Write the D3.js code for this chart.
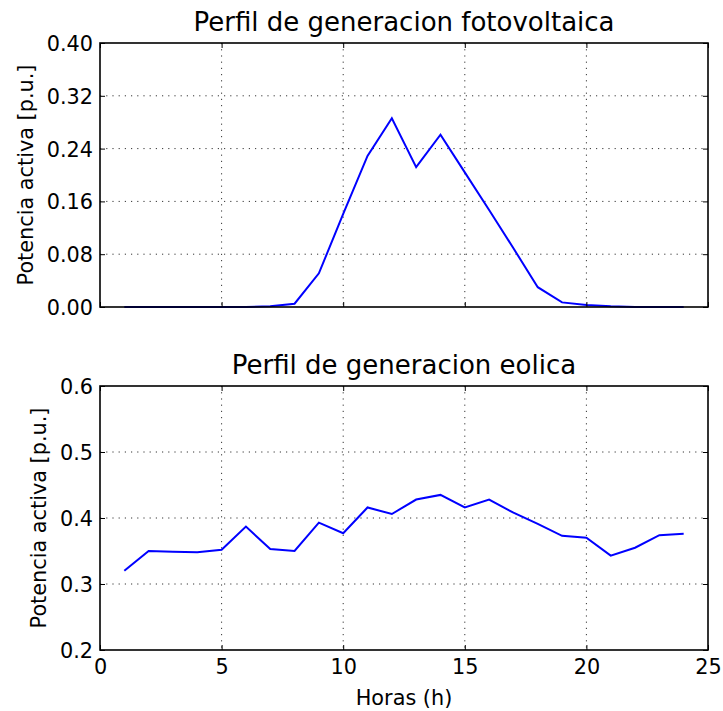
<!DOCTYPE html>
<html>
<head>
<meta charset="utf-8">
<script src="https://cdn.jsdelivr.net/npm/d3@7"></script>
<style>
  html, body { margin: 0; padding: 0; background: #fff; }
  svg { display: block; font-family: "DejaVu Sans", sans-serif; }
</style>
</head>
<body>
<svg id="chart" width="723" height="711"></svg>
<script>
// Hourly generation profiles (per unit)
const hours = [1,2,3,4,5,6,7,8,9,10,11,12,13,14,15,16,17,18,19,20,21,22,23,24];
const solarValues = [0,0,0,0,0,0,0.001,0.005,0.051,0.141,0.229,0.286,0.212,0.261,0.204,0.147,0.089,0.030,0.007,0.003,0.001,0,0,0];
const windValues = [0.320,0.350,0.349,0.348,0.352,0.387,0.353,0.350,0.393,0.377,0.416,0.406,0.428,0.435,0.416,0.428,0.408,0.391,0.373,0.370,0.343,0.355,0.374,0.376];

const xTicks = [0,5,10,15,20,25];
const solarTicks = [0,0.08,0.16,0.24,0.32,0.40];
const windTicks = [0.2,0.3,0.4,0.5,0.6];

const titles = ["Perfil de generacion fotovoltaica", "Perfil de generacion eolica"];
const yLabel = "Potencia activa [p.u.]";
const xLabel = "Horas (h)";

const svg = d3.select("#chart");
const left = 100, right = 708;
const tickFont = 20.8, titleFont = 26;

const panels = [
  { top: 43, bottom: 307, values: solarValues, domain: [0, 0.4], ticks: solarTicks,
    fmt: d3.format(".2f"), title: titles[0], showX: false, labelX: 33 },
  { top: 386, bottom: 650, values: windValues, domain: [0.2, 0.6], ticks: windTicks,
    fmt: d3.format(".1f"), title: titles[1], showX: true, labelX: 46 }
];

const x = d3.scaleLinear().domain([0, 25]).range([left, right]);

panels.forEach(p => {
  const y = d3.scaleLinear().domain(p.domain).range([p.bottom, p.top]);
  const g = svg.append("g");

  // grid lines (dotted)
  const grid = g.append("g").attr("stroke", "#000").attr("stroke-width", 0.8)
    .attr("stroke-dasharray", "1.2,5");
  grid.selectAll("line.gx").data(xTicks.slice(1, -1)).join("line")
    .attr("x1", d => x(d)).attr("x2", d => x(d))
    .attr("y1", p.top).attr("y2", p.bottom);
  grid.selectAll("line.gy").data(p.ticks.slice(1, -1)).join("line")
    .attr("x1", left).attr("x2", right)
    .attr("y1", d => y(d)).attr("y2", d => y(d));

  // data line
  const line = d3.line().x((d, i) => x(hours[i])).y(d => y(d));
  g.append("path").datum(p.values)
    .attr("fill", "none").attr("stroke", "#0000ff").attr("stroke-width", 2)
    .attr("stroke-linejoin", "miter").attr("d", line);

  // inward ticks on all four sides
  const axB = d3.axisBottom(x).tickValues(xTicks).tickSizeInner(-5).tickSizeOuter(0)
    .tickFormat(p.showX ? d3.format("d") : () => "");
  const axT = d3.axisTop(x).tickValues(xTicks).tickSizeInner(-5).tickSizeOuter(0).tickFormat(() => "");
  const axL = d3.axisLeft(y).tickValues(p.ticks).tickSizeInner(-5).tickSizeOuter(0).tickFormat(p.fmt);
  const axR = d3.axisRight(y).tickValues(p.ticks).tickSizeInner(-5).tickSizeOuter(0).tickFormat(() => "");

  const gb = g.append("g").attr("transform", `translate(0,${p.bottom})`).call(axB);
  g.append("g").attr("transform", `translate(0,${p.top})`).call(axT);
  const gl = g.append("g").attr("transform", `translate(${left},0)`).call(axL);
  g.append("g").attr("transform", `translate(${right},0)`).call(axR);

  g.selectAll(".domain").remove();
  g.selectAll(".tick line").attr("stroke", "#000").attr("stroke-width", 1);
  gl.selectAll(".tick text").attr("x", -7).attr("font-size", tickFont).attr("fill", "#000")
    .attr("font-family", "DejaVu Sans").attr("dy", "0.36em");
  gb.selectAll(".tick text").attr("y", 9).attr("font-size", tickFont).attr("fill", "#000")
    .attr("font-family", "DejaVu Sans").attr("dy", "0.71em");

  // frame
  g.append("rect").attr("x", left).attr("y", p.top)
    .attr("width", right - left).attr("height", p.bottom - p.top)
    .attr("fill", "none").attr("stroke", "#000").attr("stroke-width", 1.6);

  // title
  g.append("text").attr("x", (left + right) / 2).attr("y", p.top - 12)
    .attr("text-anchor", "middle").attr("font-size", titleFont).attr("fill", "#000")
    .text(p.title);

  // y label
  g.append("text")
    .attr("transform", `translate(${p.labelX},${(p.top + p.bottom) / 2}) rotate(-90)`)
    .attr("text-anchor", "middle").attr("font-size", tickFont).attr("fill", "#000")
    .text(yLabel);
});

svg.append("text").attr("x", (left + right) / 2).attr("y", 705)
  .attr("text-anchor", "middle").attr("font-size", tickFont).attr("fill", "#000")
  .text(xLabel);
</script>
</body>
</html>
